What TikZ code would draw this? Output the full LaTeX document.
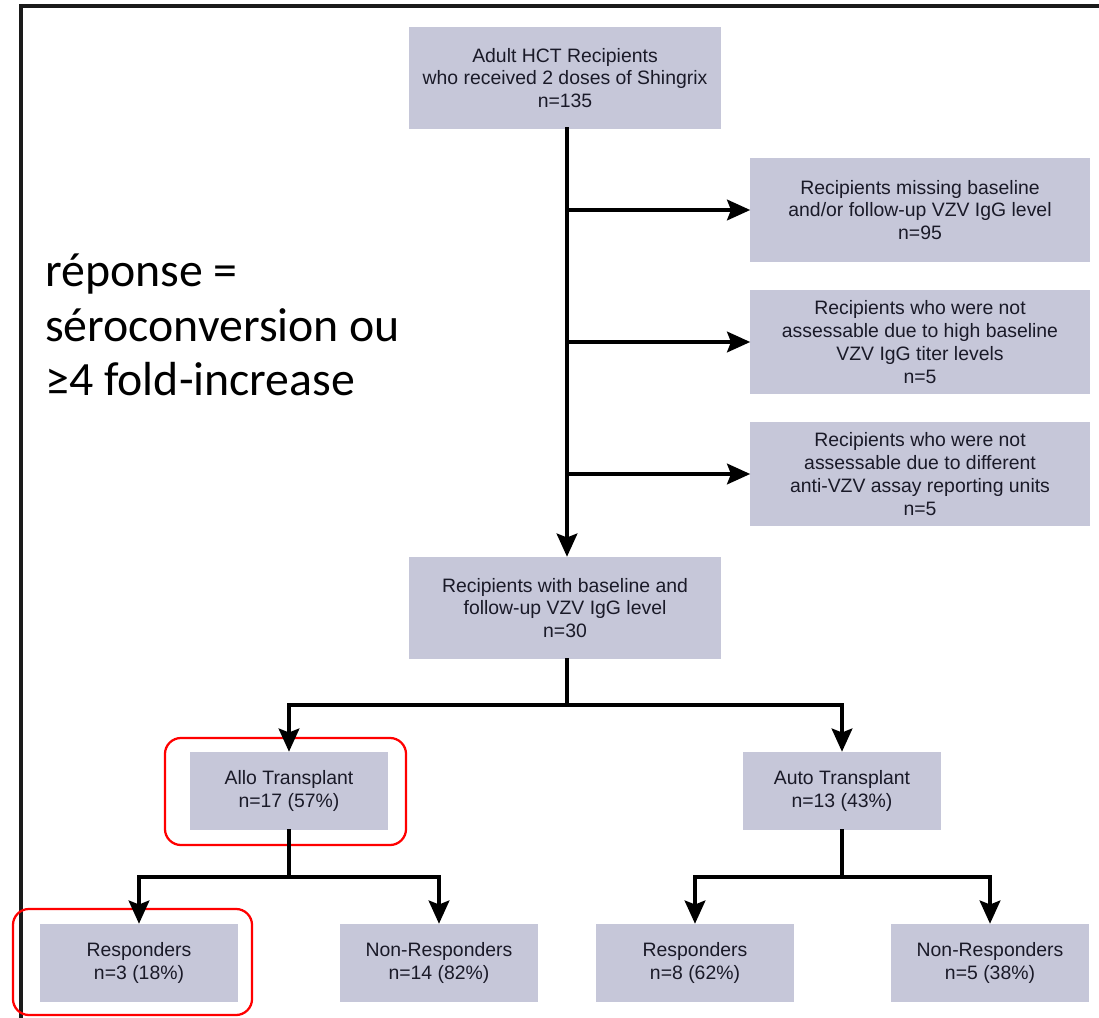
\documentclass[tikz,border=0pt]{standalone}
\usepackage{fontspec}
\setmainfont{Liberation Sans}
\newfontfamily\notefont{Carlito}
\usetikzlibrary{arrows.meta,positioning}
\definecolor{boxgray}{HTML}{C6C7D9}
\definecolor{framegray}{HTML}{1A1A1A}
\definecolor{boxtext}{HTML}{1A1A28}

\tikzset{
  stepbox/.style={fill=boxgray,align=center,inner sep=2pt,text=boxtext,
    font=\fontsize{13.8}{16.3}\selectfont},
  bigbox/.style={stepbox,minimum width=7.8cm,minimum height=2.55cm},
  sidebox/.style={stepbox,minimum width=8.475cm,minimum height=2.6cm},
  smallbox/.style={stepbox,minimum width=4.95cm,minimum height=1.95cm},
  link/.style={line width=2.2pt,line cap=rect},
  arr/.style={link,-{Stealth[length=0.58cm,width=0.52cm,inset=0.1cm]}},
  hl/.style={draw=red,line width=1.6pt,rounded corners=0.4cm}
}

\begin{document}
\begin{tikzpicture}[x=0.025cm,y=-0.025cm]
  \useasboundingbox (0,0) rectangle (1099,1018);
  % open frame
  \draw[line width=2.8pt,framegray] (21,1018) -- (21,6) -- (1099,6);

  % main column
  \node[bigbox] (start) at (565,78) {Adult HCT Recipients\\who received 2 doses of Shingrix\\n=135};
  \node[sidebox] (miss) at (920,210) {Recipients missing baseline\\and/or follow-up VZV IgG level\\n=95};
  \node[sidebox] (high) at (920,342) {Recipients who were not\\assessable due to high baseline\\VZV IgG titer levels\\n=5};
  \node[sidebox] (units) at (920,474) {Recipients who were not\\assessable due to different\\anti-VZV assay reporting units\\n=5};
  \node[bigbox] (both) at (565,608) {Recipients with baseline and\\follow-up VZV IgG level\\n=30};

  % transplant type
  \node[smallbox] (allo) at (289,791) {Allo Transplant\\n=17 (57\%)};
  \node[smallbox] (auto) at (842,791) {Auto Transplant\\n=13 (43\%)};

  % response
  \node[smallbox] (alloresp) at (139,963) {Responders\\n=3 (18\%)};
  \node[smallbox] (allonon) at (439,963) {Non-Responders\\n=14 (82\%)};
  \node[smallbox] (autoresp) at (695,963) {Responders\\n=8 (62\%)};
  \node[smallbox] (autonon) at (990,963) {Non-Responders\\n=5 (38\%)};

  % highlights
  \node[hl,minimum width=6.025cm,minimum height=2.675cm] (hlallo) at (285.5,791.5) {};
  \node[hl,minimum width=5.975cm,minimum height=2.65cm] (hlresp) at (132.5,962) {};

  % note
  \node[anchor=north west,align=left,inner sep=0pt,
    font=\notefont\fontsize{34}{38.5}\selectfont] (note) at (45,254)
    {réponse =\\séroconversion ou\\≥4 fold-increase};

  % connectors
  \coordinate (trunk) at (567,129);
  \draw[arr] (trunk) -- (trunk |- both.north);
  \draw[arr] (trunk |- miss) -- (miss);
  \draw[arr] (trunk |- high) -- (high);
  \draw[arr] (trunk |- units) -- (units);

  \coordinate (split) at (567,705);
  \draw[link] (both.south -| split) -- (split);
  \draw[arr] (split) -| (allo);
  \draw[arr] (split) -| (auto);

  \coordinate (splitallo) at (289,877);
  \draw[link] (allo) -- (splitallo);
  \draw[arr] (splitallo) -| (alloresp);
  \draw[arr] (splitallo) -| (allonon);

  \coordinate (splitauto) at (842,877);
  \draw[link] (auto) -- (splitauto);
  \draw[arr] (splitauto) -| (autoresp);
  \draw[arr] (splitauto) -| (autonon);
\end{tikzpicture}
\end{document}
